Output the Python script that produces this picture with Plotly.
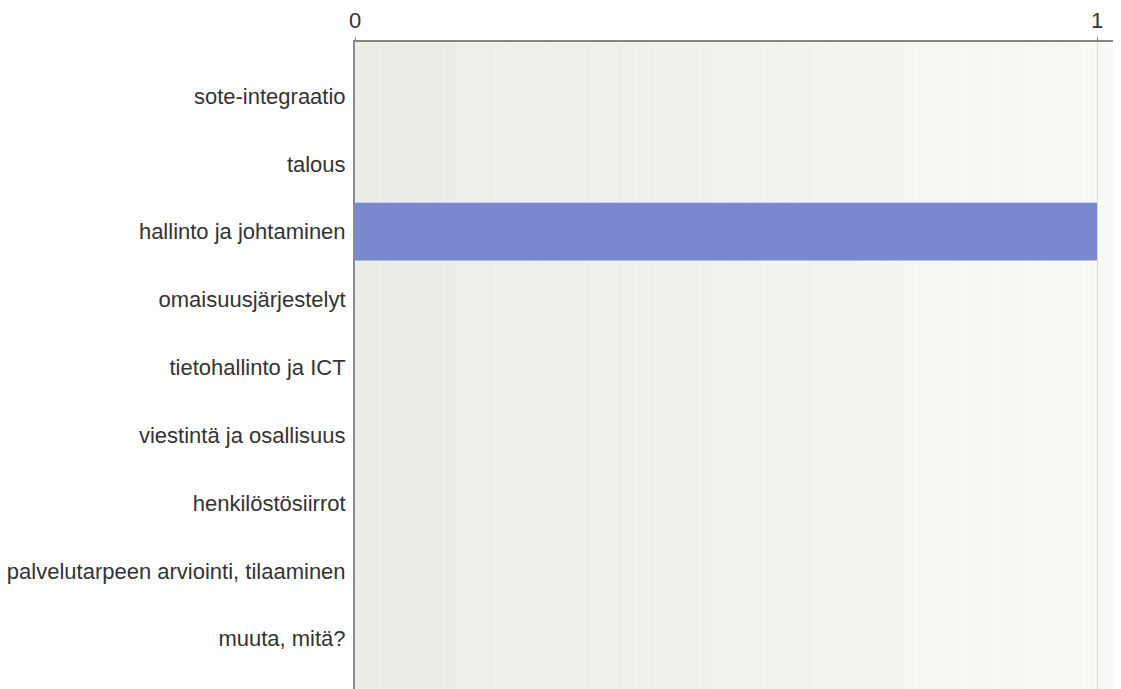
import plotly.graph_objects as go

categories = [
    "sote-integraatio",
    "talous",
    "hallinto ja johtaminen",
    "omaisuusjärjestelyt",
    "tietohallinto ja ICT",
    "viestintä ja osallisuus",
    "henkilöstösiirrot",
    "palvelutarpeen arviointi, tilaaminen",
    "muuta, mitä?",
]
values = [0, 0, 1, 0, 0, 0, 0, 0, 0]
x_ticks = [0, 1]

fig = go.Figure()
fig.add_trace(go.Bar(
    x=values, y=categories, orientation="h",
    marker=dict(color="#7a88cf", line=dict(width=0)),
    hoverinfo="x+y",
))

# subtle horizontal background gradient
left = (233, 237, 229)
right = (247, 249, 245)
n = 60
shapes = []
for i in range(n):
    t = i / (n - 1)
    c = tuple(round(left[k] + (right[k] - left[k]) * t) for k in range(3))
    shapes.append(dict(
        type="rect", xref="x domain", yref="y domain",
        x0=i / n, x1=(i + 1) / n, y0=0, y1=1,
        fillcolor="rgb(%d,%d,%d)" % c, line=dict(width=0), layer="below",
    ))

fig.update_layout(
    width=1113, height=681,
    margin=dict(l=347, r=0, t=34, b=0, autoexpand=False),
    paper_bgcolor="white",
    plot_bgcolor="rgba(0,0,0,0)",
    shapes=shapes,
    bargap=0.15,
    showlegend=False,
    font=dict(family="Liberation Sans, Arial, sans-serif", size=22, color="#333333"),
    xaxis=dict(
        side="top", range=[0, 1.0323], tickvals=x_ticks,
        showgrid=True, gridcolor="#dcdcdc", gridwidth=1, zeroline=False,
        showline=True, linecolor="#858585", linewidth=2,
        ticks="outside", ticklen=3, tickcolor="#858585",
        tickfont=dict(size=22, color="#333333"), automargin=False,
    ),
    yaxis=dict(
        range=[8.74, -0.795], categoryorder="array", categoryarray=categories,
        showgrid=False, zeroline=False,
        showline=True, linecolor="#8a8c9c", linewidth=2,
        ticks="", ticklabelstandoff=3, automargin=False,
        tickfont=dict(size=22, color="#333333"),
    ),
)

fig.write_html("out.html")
